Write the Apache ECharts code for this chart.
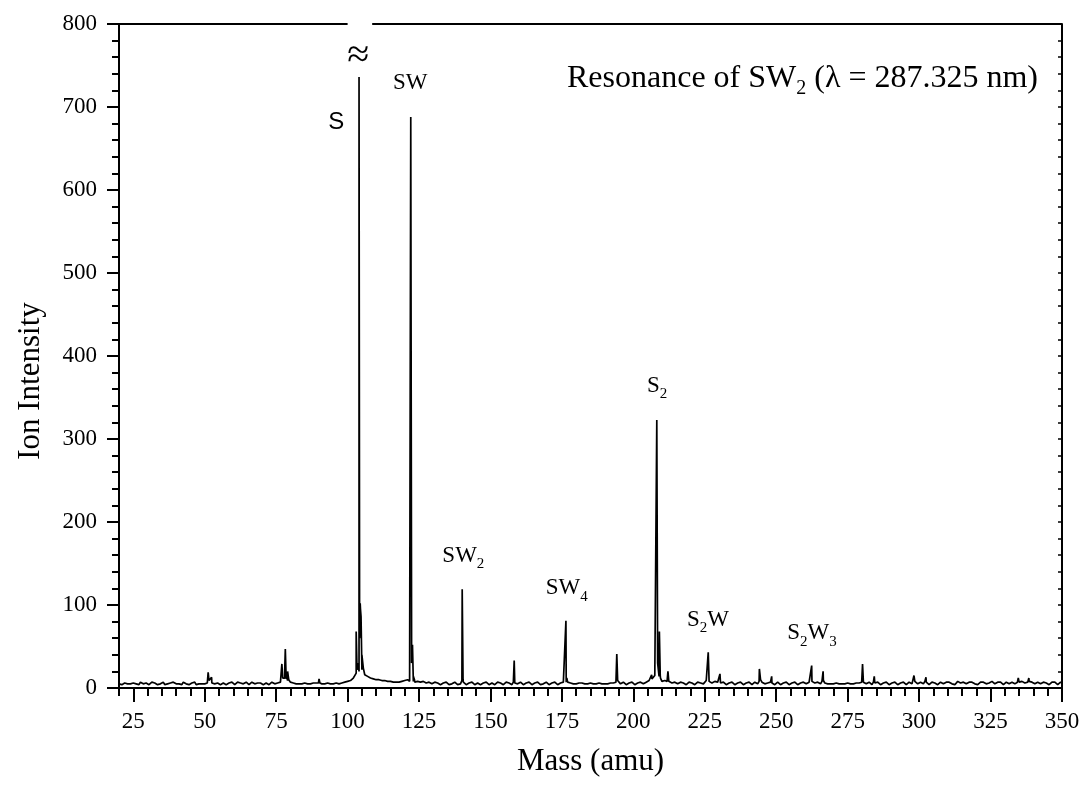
<!DOCTYPE html>
<html>
<head>
<meta charset="utf-8">
<script src="https://cdn.jsdelivr.net/npm/echarts@6.0.0/dist/echarts.min.js"></script>
<style>
  html, body { margin: 0; padding: 0; background: #ffffff; }
  #chart { width: 1086px; height: 791px; }
</style>
</head>
<body>
<div id="chart"></div>
<script>
// Background intensity, one value per amu from 20 to 350
const baselineStart = 20;
const baseline = [
  5,4,6,5,5,6,5,4,6,5,
  5,6,5,5,6,5,4,5,6,7,
  5,5,4,5,6,5,5,4,5,5,
  5,6,8,7,5,4,5,5,4,5,
  5,6,5,7,6,5,5,6,5,4,
  5,5,6,5,5,4,6,8,12,9,
  7,6,5,5,5,6,5,5,6,6,
  7,5,5,6,5,5,6,5,6,7,
  8,9,12,18,20,22,16,14,12,11,
  10,10,9,9,8,8,7,7,7,8,
  9,10,9,8,7,8,7,7,6,6,
  6,5,6,5,5,5,6,5,5,6,
  9,6,5,5,6,5,5,6,5,5,
  5,6,5,5,6,6,5,5,7,6,
  6,6,5,5,6,5,5,6,6,5,
  5,5,6,5,5,6,8,7,6,5,
  5,6,6,5,5,6,5,5,6,5,
  5,5,6,6,8,7,6,5,5,6,
  6,5,5,6,6,8,10,12,16,14,
  8,9,8,7,6,6,6,5,5,6,
  5,6,5,5,6,7,8,7,7,6,
  7,6,5,5,5,6,5,5,6,5,
  5,6,5,6,8,7,5,6,7,5,
  5,6,5,5,6,5,5,6,5,5,
  6,6,7,7,5,6,8,6,5,5,
  5,6,5,5,5,6,5,5,6,6,
  8,6,5,5,7,6,5,5,5,5,
  5,6,5,5,6,5,5,6,6,7,
  6,6,8,6,5,5,6,5,6,6,
  5,6,6,5,7,5,6,6,5,6,
  6,5,6,6,7,5,6,6,5,6,
  6,7,5,6,6,7,8,6,7,6,
  6,5,6,6,5,6,6,5,6,5,
  6
];

// Background intensity at the half-amu points 20.5 ... 349.5
const baselineHalf = [
  6,4,7,3,6,5,4,7,5,6,
  4,7,6,4,5,7,6,4,8,5,
  6,4,7,5,4,6,7,5,4,6,
  7,9,6,5,6,4,6,4,6,7,
  4,7,6,5,7,4,7,5,6,6,
  4,6,4,7,5,6,7,10,11,8,
  6,7,4,6,7,4,6,7,4,7,
  6,4,7,5,6,7,4,7,5,6,
  9,10,15,26,95,24,15,13,12,10,
  11,9,10,8,9,7,8,6,8,9,
  10,9,40,7,8,7,8,6,7,5,
  7,6,4,6,7,4,5,7,4,5,
  7,4,6,7,4,6,4,6,7,4,
  6,4,7,6,4,7,6,4,6,5,
  7,4,6,7,4,6,7,4,5,7,
  4,6,7,4,6,7,7,5,7,4,
  6,7,4,6,7,4,6,7,4,6,
  7,4,6,5,9,5,7,4,6,7,
  4,6,7,5,7,9,11,15,30,12,
  9,7,9,6,7,5,7,6,4,7,
  6,4,7,6,5,9,8,6,8,7,
  6,7,4,6,7,4,6,7,4,6,
  7,4,7,5,10,6,7,5,6,4,
  7,4,6,7,4,6,7,4,6,7,
  5,7,8,6,7,5,9,7,4,6,
  7,4,6,7,4,6,4,7,5,7,
  7,5,7,4,6,7,4,6,7,4,
  6,7,4,6,7,4,7,5,8,5,
  7,5,7,4,7,6,4,7,5,7,
  7,5,4,8,6,7,5,7,7,5,
  4,7,7,5,6,8,5,7,7,4,
  7,5,7,5,8,6,7,5,8,7,
  5,7,5,7,6,4,7,7,4,7
];

// Mass peaks as [mass (amu), intensity] points
const peaks = [
  [50.9,6],[51.2,19],[51.5,9],[52.2,8],[52.4,13],[52.7,7],
  [76.7,7],[77.0,29],[77.3,12],[77.6,14],[78.0,22],[78.2,47],[78.5,16],[79.0,20],[79.4,10],
  [89.8,6],[90.0,11],[90.3,6],
  [102.7,14],[103.0,68],[103.3,22],[103.7,30],[104.0,736],[104.2,60],[104.4,102],[104.7,86],[105.0,40],[105.5,24],[105.8,26],[106.2,15],
  [121.7,8],[122.1,688],[122.4,30],[122.7,52],[123.0,14],[123.4,10],
  [139.8,7],[140.1,119],[140.4,10],
  [158.1,6],[158.3,33],[158.6,7],
  [176.1,8],[176.4,81],[176.7,12],[177.0,9],
  [193.9,7],[194.2,41],[194.5,10],
  [206.1,9],[206.4,16],[206.8,11],[207.9,14],[208.2,323],[208.5,30],[208.8,20],[209.1,68],[209.4,15],
  [211.8,8],[212.1,20],[212.4,8],
  [225.9,7],[226.2,43],[226.5,10],
  [229.9,7],[230.3,17],[230.6,7],
  [243.8,7],[244.1,23],[244.5,10],
  [248.1,6],[248.4,14],[248.7,6],
  [262.1,7],[262.4,27],[262.7,9],
  [266.1,8],[266.4,20],[266.7,8],
  [279.9,7],[280.2,29],[280.5,9],
  [284.0,6],[284.3,14],[284.6,6],
  [297.9,6],[298.2,15],[298.5,7],
  [302.1,7],[302.4,13],[302.8,7],
  [334.4,7],[334.7,12],[335.0,6],
  [338.1,7],[338.4,12],[338.7,6]
];

// Peak assignments: label, anchor mass, anchor intensity
const labelTexts = ['≈', 'S', 'SW', 'SW2', 'SW4', 'S2', 'S2W', 'S2W3'];
const labelMass  = [103.7, 96.0, 121.9, 140.5, 176.7, 208.3, 226.1, 262.5];
const labelLevel = [761, 681, 729, 159, 120, 364, 82, 66];

// Axis ticks
const xMajorTicks = [25, 50, 75, 100, 125, 150, 175, 200, 225, 250, 275, 300, 325, 350];
const topBorder = [[20, 800], [100, 800], [104, '-'], [108.6, 800], [350, 800]];
const topGap = [100, 108.6];

const spectrum = baseline.map((v, i) => [baselineStart + i, v])
  .concat(baselineHalf.map((v, i) => [baselineStart + 0.5 + i, v]))
  .concat(peaks)
  .sort((a, b) => a[0] - b[0]);

const topTicks = [];
for (let m = 20; m <= 350; m += 5) {
  if (m < topGap[0] || m > topGap[1]) topTicks.push(m);
}

const SERIF = '"Liberation Serif", "Times New Roman", serif';
const SANS = '"Liberation Sans", Arial, sans-serif';

// Turn "S2W3" into rich text with subscripted digits
function toRich(t) {
  if (t === '≈') return '{approx|≈}';
  if (t === 'S') return '{sans|S}';
  return t.replace(/(\d)/g, '\u0000$1\u0001').split(/(\u0000\d\u0001)/)
    .filter(s => s.length)
    .map(s => s[0] === '\u0000' ? '{sub|' + s[1] + '}' : '{main|' + s + '}')
    .join('');
}

const chart = echarts.init(document.getElementById('chart'), null, { renderer: 'canvas' });

const option = {
  animation: false,
  backgroundColor: '#ffffff',
  title: {
    text: '{t|Resonance of SW}{ts|2}{t| (λ = 287.325 nm)}',
    right: 43,
    top: 54,
    textStyle: {
      fontWeight: 'normal',
      rich: {
        t: { fontFamily: SERIF, fontSize: 32, fontWeight: 'normal', color: '#000', lineHeight: 40, verticalAlign: 'middle' },
        ts: { fontFamily: SERIF, fontSize: 20, fontWeight: 'normal', color: '#000', lineHeight: 20, verticalAlign: 'bottom' }
      }
    }
  },
  grid: { left: 119, right: 24, top: 24, bottom: 103, containLabel: false },
  xAxis: [
    {
      type: 'value', position: 'bottom', min: 20, max: 350, interval: 5,
      name: 'Mass (amu)', nameLocation: 'middle', nameGap: 58,
      nameTextStyle: { fontFamily: SERIF, fontSize: 31, color: '#000' },
      axisLine: { show: true, onZero: false, lineStyle: { color: '#000', width: 2 } },
      axisTick: { show: true, length: 14, lineStyle: { color: '#000', width: 2 }, customValues: xMajorTicks },
      axisLabel: { show: true, margin: 22, fontFamily: SERIF, fontSize: 23, color: '#000', customValues: xMajorTicks },
      splitLine: { show: false }
    },
    {
      type: 'value', position: 'bottom', min: 20, max: 350, interval: 5,
      axisLine: { show: false },
      axisTick: { show: true, length: 8, lineStyle: { color: '#000', width: 2 } },
      axisLabel: { show: false },
      splitLine: { show: false }
    },
    {
      type: 'value', position: 'top', min: 20, max: 350, interval: 5,
      axisLine: { show: false },
      axisTick: { show: true, inside: true, length: 4, lineStyle: { color: '#000', width: 1.5 }, customValues: topTicks },
      axisLabel: { show: false },
      splitLine: { show: false }
    }
  ],
  yAxis: [
    {
      type: 'value', position: 'left', min: 0, max: 800, interval: 100,
      axisLine: { show: true, onZero: false, lineStyle: { color: '#000', width: 2 } },
      axisTick: { show: true, length: 12, lineStyle: { color: '#000', width: 2 } },
      minorTick: { show: true, splitNumber: 5, length: 7, lineStyle: { color: '#000', width: 2 } },
      axisLabel: { show: true, margin: 22, fontFamily: SERIF, fontSize: 23, color: '#000' },
      splitLine: { show: false }
    },
    {
      type: 'value', position: 'right', min: 0, max: 800, interval: 20,
      axisLine: { show: true, onZero: false, lineStyle: { color: '#000', width: 2 } },
      axisTick: { show: true, inside: true, length: 4, lineStyle: { color: '#000', width: 1.5 } },
      axisLabel: { show: false },
      splitLine: { show: false }
    }
  ],
  graphic: [
    {
      type: 'text', x: 31, y: 381, rotation: Math.PI / 2,
      style: { text: 'Ion Intensity', font: '31px ' + SERIF, fill: '#000', align: 'center', verticalAlign: 'middle' }
    }
  ],
  series: [
    {
      name: 'spectrum', type: 'line', xAxisIndex: 0, yAxisIndex: 0,
      data: spectrum, showSymbol: false, symbol: 'none',
      lineStyle: { color: '#000', width: 1.7 },
      silent: true
    },
    {
      name: 'frame', type: 'line', xAxisIndex: 0, yAxisIndex: 0,
      data: topBorder, showSymbol: false, symbol: 'none', connectNulls: false, clip: false,
      lineStyle: { color: '#000', width: 2 },
      silent: true
    },
    {
      name: 'assignments', type: 'scatter', xAxisIndex: 0, yAxisIndex: 0,
      symbolSize: 0, silent: true, clip: false,
      itemStyle: { opacity: 1 },
      data: labelTexts.map((t, i) => ({ name: t, value: [labelMass[i], labelLevel[i]] })),
      label: {
        show: true, position: 'inside', color: '#000', opacity: 1,
        formatter: p => toRich(p.name),
        rich: {
          main: { fontFamily: SERIF, fontSize: 23, color: '#000', lineHeight: 32, verticalAlign: 'middle' },
          sub: { fontFamily: SERIF, fontSize: 15, color: '#000', lineHeight: 14, verticalAlign: 'bottom' },
          sans: { fontFamily: SANS, fontSize: 24, color: '#000', lineHeight: 32 },
          approx: { fontFamily: SERIF, fontSize: 40, color: '#000', lineHeight: 40 }
        }
      }
    }
  ]
};

chart.setOption(option);
</script>
</body>
</html>
